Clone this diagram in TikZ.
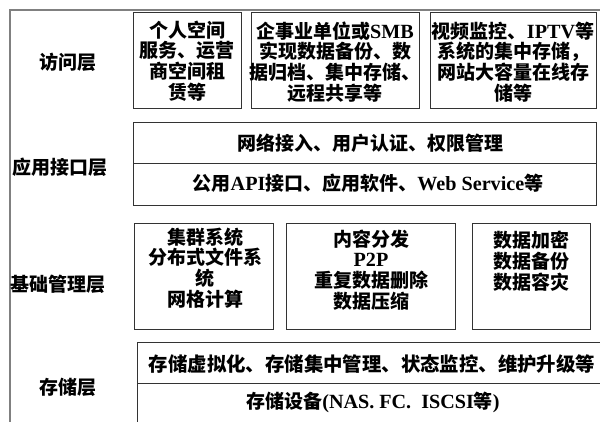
\documentclass[tikz,border=0pt]{standalone}
\usepackage{fontspec}
\setmainfont{Noto Sans CJK SC}
\newfontfamily\lat[Scale=1.06]{Liberation Serif}
\newcommand{\la}[1]{{\lat\bfseries #1}}
\begin{document}
\begin{tikzpicture}[x=1pt,y=-1pt,
  frame/.style={draw=black!50, line width=2pt},
  cell/.style={draw=black!80, line width=1.3pt, inner sep=0pt, anchor=north west},
  txt/.style={inner sep=0pt, align=center, font=\fontsize{19}{20.8}\selectfont\bfseries},
  wide/.style={inner sep=0pt, align=center, font=\fontsize{19.4}{20.8}\selectfont\bfseries},
  lbl/.style={inner sep=0pt, font=\fontsize{19}{21}\selectfont\bfseries}]
\useasboundingbox (0,0) rectangle (600,421);
\fill[white] (0,0) rectangle (600,421);
% frame
\coordinate (ftr) at (602,10);
\coordinate (ftl) at (10,10);
\coordinate (fbl) at (10,423);
\draw[frame] (ftr) -- (ftl) -- (fbl);
% layer labels
\node[lbl] (l1) at (68,62) {访问层};
\node[lbl] (l2) at (60,167) {应用接口层};
\node[lbl] (l3) at (58,284) {基础管理层};
\node[lbl] (l4) at (68,387) {存储层};
% access layer
\node[cell, minimum width=108pt, minimum height=96pt] (a1) at (133,12) {};
\node[cell, minimum width=168pt, minimum height=96pt] (a2) at (251,12) {};
\node[cell, minimum width=166pt, minimum height=96pt] (a3) at (430,12) {};
\node[txt] (ta1) at (187,61) {个人空间\\服务、运营\\商空间租\\赁等};
\node[txt] (ta2) at (335,62) {企事业单位或\la{SMB}\\实现数据备份、数\\据归档、集中存储、\\远程共享等};
\node[txt] (ta3) at (513,62) {视频监控、\la{IPTV}等\\系统的集中存储，\\网站大容量在线存\\储等};
% application interface layer
\node[cell, minimum width=463pt, minimum height=41pt] (p1) at (133,122) {};
\node[cell, minimum width=463pt, minimum height=42pt] (p2) at (133,163) {};
\node[txt] (tp1) at (370,143) {网络接入、用户认证、权限管理};
\node[txt] (tp2) at (368,183) {公用\la{API}接口、应用软件、\la{Web Service}等};
% infrastructure management layer
\node[cell, minimum width=139pt, minimum height=106pt] (i1) at (134,223) {};
\node[cell, minimum width=169pt, minimum height=106pt] (i2) at (286,223) {};
\node[cell, minimum width=118pt, minimum height=106pt] (i3) at (472,223) {};
\node[txt] (ti1) at (205,268) {集群系统\\分布式文件系\\统\\网格计算};
\node[txt] (ti2) at (371,270) {内容分发\\\la{P2P}\\重复数据删除\\数据压缩};
\node[txt] (ti3) at (531,261) {数据加密\\数据备份\\数据容灾};
% storage layer
\node[cell, minimum width=466pt, minimum height=41pt] (s1) at (137,342) {};
\node[cell, minimum width=466pt, minimum height=42pt] (s2) at (137,383) {};
\node[wide] (ts1) at (372,364) {存储虚拟化、存储集中管理、状态监控、维护升级等};
\node[txt] (ts2) at (373,402) {存储设备\la{(NAS. FC.\ \ ISCSI}等\la{)}};
\end{tikzpicture}
\end{document}
